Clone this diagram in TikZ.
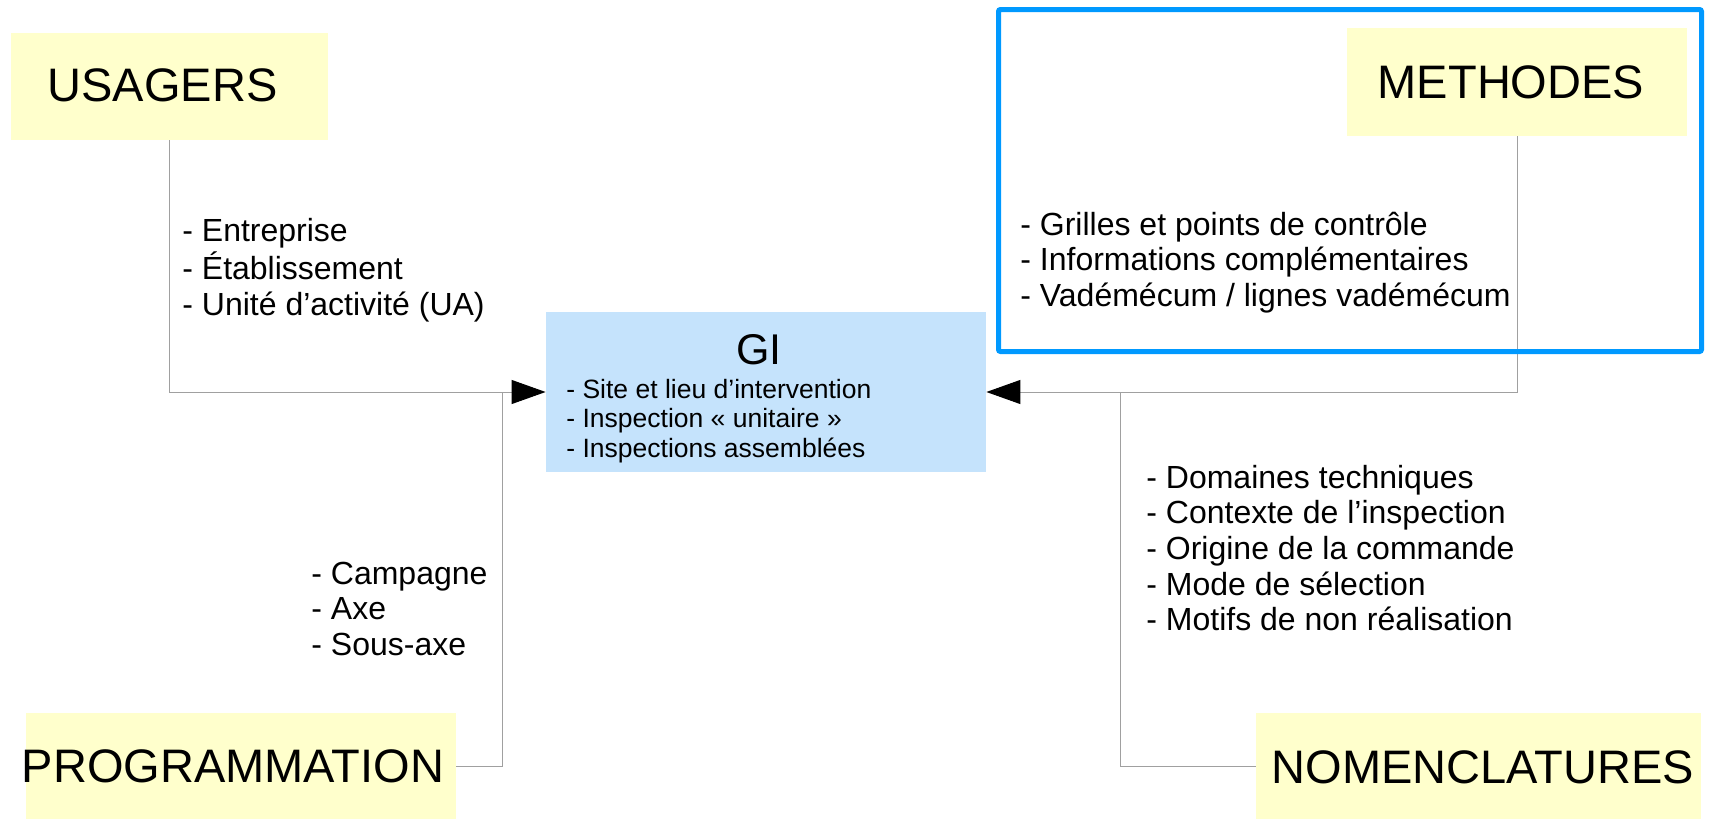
\documentclass[tikz,border=0pt]{standalone}
\usepackage{fontspec}
\setmainfont{Liberation Sans}
\usetikzlibrary{arrows.meta}
\definecolor{boxyellow}{RGB}{255,255,204}
\definecolor{giblue}{RGB}{197,227,252}
\definecolor{frameblue}{RGB}{0,153,255}
\definecolor{linegray}{RGB}{160,160,160}
\newcommand{\itemlist}[1]{\begin{tabular}[t]{@{}l@{}}#1\end{tabular}}
\begin{document}
\begin{tikzpicture}[x=0.5pt,y=-0.5pt,
  catbox/.style={fill=boxyellow, draw=none, inner sep=0pt},
  cattext/.style={anchor=base, inner sep=0pt, font=\fontsize{23.5pt}{28pt}\selectfont},
  itemtext/.style={anchor=base west, inner sep=0pt, font=\fontsize{16pt}{17.85pt}\selectfont},
  gitext/.style={anchor=base west, inner sep=0pt, font=\fontsize{13.25pt}{14.75pt}\selectfont},
  conn/.style={draw=linegray, line width=0.5pt},
  arr/.style={conn, -{Triangle[length=17pt,width=12pt,color=black,fill=black]}}]
\useasboundingbox (0,0) rectangle (1715,819);

% boxes
\node[catbox, minimum width=158.5pt, minimum height=53.5pt] (usagers) at (169.5,86.5) {};
\node[catbox, minimum width=170pt, minimum height=54pt] (methodes) at (1517,82) {};
\node[catbox, minimum width=215pt, minimum height=53pt] (prog) at (241,766) {};
\node[catbox, minimum width=222.5pt, minimum height=53pt] (nomen) at (1478.5,766) {};
\node[fill=giblue, inner sep=0pt, minimum width=220pt, minimum height=80pt] (gi) at (766,392) {};

% junctions
\coordinate (jl) at (502,392);
\coordinate (jr) at (1120,392);

% connectors
\draw[arr] (usagers.south) |- (gi.west);
\draw[arr] (methodes.south) |- (gi.east);
\draw[conn] (prog.east) -| (jl);
\draw[conn] (nomen.west) -| (jr);

% blue frame
\node[draw=frameblue, line width=2.5pt, rounded corners=1pt, inner sep=0pt, minimum width=351.5pt, minimum height=171pt] (frame) at (1350,180.5) {};

% labels
\node[cattext] (usagersT) at (162.5,101) {USAGERS};
\node[cattext] (methodesT) at (1511,98) {METHODES};
\node[cattext] (progT) at (233,782) {PROGRAMMATION};
\node[cattext] (nomenT) at (1483,783) {NOMENCLATURES};
\node[anchor=base, inner sep=0pt, font=\fontsize{21.5pt}{26pt}\selectfont] (giT) at (759,364) {GI};

% item lists
\node[gitext] (giItems) at (566,398) {\itemlist{- Site et lieu d’intervention\\- Inspection « unitaire »\\- Inspections assemblées}};
\node[itemtext] (usItems) at (182,241) {\itemlist{- Entreprise\\- Établissement\\- Unité d’activité (UA)}};
\node[itemtext] (progItems) at (311,584) {\itemlist{- Campagne\\- Axe\\- Sous-axe}};
\node[itemtext] (methItems) at (1020,235) {\itemlist{- Grilles et points de contrôle\\- Informations complémentaires\\- Vadémécum / lignes vadémécum}};
\node[itemtext] (nomItems) at (1146,488) {\itemlist{- Domaines techniques\\- Contexte de l’inspection\\- Origine de la commande\\- Mode de sélection\\- Motifs de non réalisation}};
\end{tikzpicture}
\end{document}
